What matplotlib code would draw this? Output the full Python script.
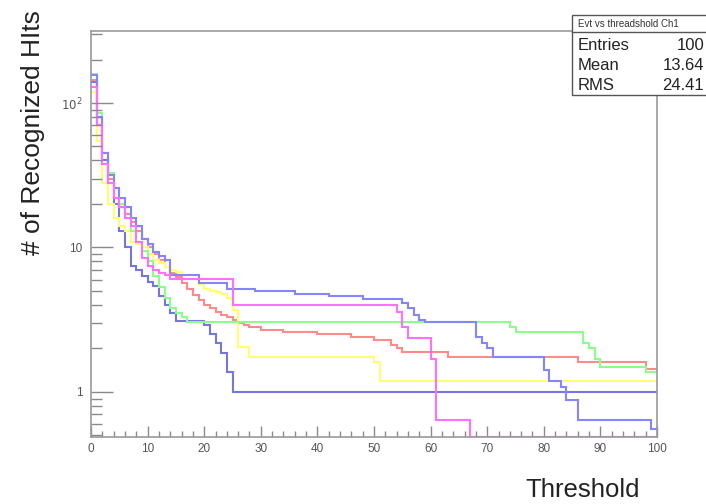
import numpy as np
import matplotlib.pyplot as plt
from matplotlib.ticker import FixedLocator, FuncFormatter, MultipleLocator

# bin start (threshold) and content for each histogram, last edge is 100
blue_a_x = list(range(0, 14)) + [14, 19, 24, 29, 36, 42, 48, 55, 56, 57, 58, 59, 68, 69, 70, 71, 80, 81, 83, 84, 86, 99]
blue_a_y = [155, 80, 45, 32, 26, 22, 19, 16, 14, 11.5, 10.5, 9.3, 8.8, 8.2,
            6.5, 5.7, 5.2, 5.0, 4.8, 4.6, 4.4, 4.1, 3.8, 3.4, 3.15, 3.05, 2.4, 2.2, 2.0,
            1.75, 1.42, 1.2, 1.08, 0.88, 0.64, 0.55]

blue_b_x = list(range(0, 16)) + [20, 21, 22, 23, 24, 25]
blue_b_y = [140, 70, 40, 28, 20, 13, 10, 7.5, 7, 6.3, 5.8, 5.4, 4.6, 4.0, 3.5, 3.1,
            2.9, 2.5, 2.2, 1.85, 1.37, 1.0]

green_x = list(range(0, 18)) + [74, 75, 87, 88, 89, 90, 98]
green_y = [160, 85, 45, 33, 26, 20, 16, 13, 11, 9.5, 8, 6.3, 5.3, 4.5, 3.8, 3.5, 3.3, 3.05,
           2.8, 2.6, 2.2, 2.0, 1.7, 1.5, 1.37]

red_x = list(range(0, 29)) + [30, 34, 40, 46, 50, 53, 54, 55, 63, 86, 98]
red_y = [145, 80, 45, 30, 22, 19, 17, 15, 13, 11.5, 10, 9, 8.2, 7.3, 6.7, 6.2, 5.7, 5.2,
         4.7, 4.3, 4.0, 3.8, 3.6, 3.4, 3.3, 3.15, 3.0, 2.9, 2.8,
         2.7, 2.6, 2.5, 2.4, 2.3, 2.1, 2.0, 1.9, 1.75, 1.6, 1.45]

yellow_x = list(range(0, 17)) + [19, 20, 21, 22, 23, 24, 25, 26, 28, 50, 51]
yellow_y = [120, 55, 28, 20, 16, 14, 13, 11, 10.5, 10, 9, 8.2, 7.8, 7.3, 7.0, 6.8, 6.4,
            5.6, 5.2, 5.0, 4.9, 4.8, 4.5, 3.7, 2.05, 1.75, 1.6, 1.2]

magenta_x = list(range(0, 15)) + [25, 54, 55, 56, 60, 61, 67]
magenta_y = [130, 70, 38, 28, 22, 19, 16, 14, 11, 8.5, 7.4, 7, 6.7, 6.4, 6.05,
             4.0, 3.6, 2.8, 2.35, 1.7, 0.64, 0]

ymin, ymax = 0.488, 315

fig = plt.figure(figsize=(7.06, 5.04), dpi=100)
ax = fig.add_axes([91/706, 1-437/504, 566/706, 406/504])

curves = [
    (blue_b_x, blue_b_y, '#7676e0'),
    (red_x, red_y, '#ff8a8a'),
    (yellow_x, yellow_y, '#ffff70'),
    (green_x, green_y, '#8aff8a'),
    (blue_a_x, blue_a_y, '#8585ff'),
    (magenta_x, magenta_y, '#ff70ff'),
]
for xs, ys, c in curves:
    vals = np.array(ys, dtype=float)
    vals = np.where(vals > 0, vals, ymin)  # empty bins sit on the frame like ROOT
    ax.stairs(vals, xs + [100], color=c, lw=1.5, baseline=None)

ax.set_yscale('log')
ax.set_xlim(0, 100)
ax.set_ylim(ymin, ymax)

ax.xaxis.set_major_locator(MultipleLocator(10))
ax.xaxis.set_minor_locator(MultipleLocator(2))
ax.yaxis.set_major_locator(FixedLocator([1, 10, 100]))
ax.yaxis.set_minor_locator(FixedLocator([v * d for d in (0.1, 1, 10, 100) for v in range(2, 10)]))
ax.yaxis.set_minor_formatter(FuncFormatter(lambda v, p: ''))
ax.yaxis.set_major_formatter(FuncFormatter(
    lambda v, p: {1: '1', 10: '10', 100: r'$10^{2}$'}.get(int(round(v)), '')))

for s in ax.spines.values():
    s.set_color('#9a9a9a')
    s.set_linewidth(1.2)

ax.tick_params(axis='both', which='both', direction='in', colors='#8a8a8a',
               labelcolor='#555555', labelsize=8.5, width=1.0)
ax.tick_params(axis='y', which='major', length=16, pad=6)
ax.tick_params(axis='y', which='minor', length=8)
ax.tick_params(axis='x', which='major', length=8, pad=4)
ax.tick_params(axis='x', which='minor', length=4)
for lab in ax.get_xticklabels() + ax.get_yticklabels():
    lab.set_family('Liberation Sans')

fig.text(33/706, 1-133/504, '# of Recognized HIts', rotation=90, ha='center', va='center',
         fontsize=19, family='Liberation Sans', color='#222222')
fig.text(583/706, 1-490/504, 'Threshold', ha='center', va='center',
         fontsize=18.5, family='Liberation Sans', color='#222222')

# stats box
bx0, bx1 = 572/706, 730/706
by_top, by_title, by_bot = 1-15/504, 1-32/504, 1-95/504
fig.patches.append(plt.Rectangle((bx0, by_bot), bx1-bx0, by_top-by_bot, transform=fig.transFigure,
                                 facecolor='white', edgecolor='#555555', lw=1.0))
fig.add_artist(plt.Line2D([bx0, bx1], [by_title, by_title], transform=fig.transFigure,
                          color='#555555', lw=1.0))
fig.text(578/706, 1-24/504, 'Evt vs threadshold Ch1', fontsize=7, va='center',
         family='Liberation Sans', color='#333333')
rows = [('Entries', '100'), ('Mean', '13.64'), ('RMS', '24.41')]
for i, (k, v) in enumerate(rows):
    yy = 1 - (45 + 20*i)/504
    fig.text(578/706, yy, k, fontsize=12, va='center', family='Liberation Sans', color='#222222')
    fig.text(704/706, yy, v, fontsize=12, va='center', ha='right', family='Liberation Sans',
             color='#222222')

fig.savefig('out.png', dpi=100)
